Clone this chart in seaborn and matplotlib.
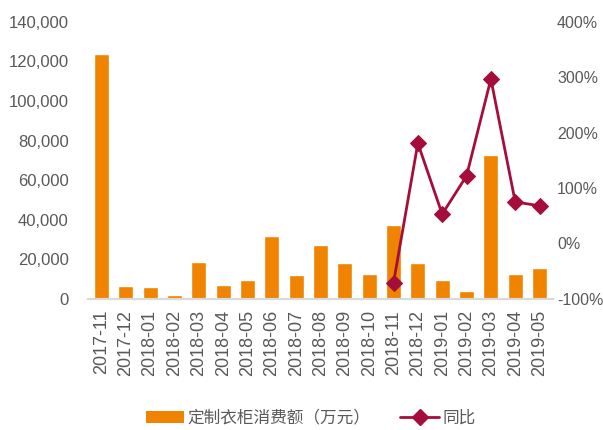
import pandas as pd
import numpy as np
import matplotlib
matplotlib.use('Agg')
import matplotlib.pyplot as plt
import matplotlib.ticker as mticker
from matplotlib.lines import Line2D
from matplotlib.patches import Patch
import seaborn as sns

# Data
months = ['2017-11', '2017-12', '2018-01', '2018-02', '2018-03', '2018-04', '2018-05',
          '2018-06', '2018-07', '2018-08', '2018-09', '2018-10', '2018-11', '2018-12',
          '2019-01', '2019-02', '2019-03', '2019-04', '2019-05']
sales = [124000, 6500, 6000, 1800, 18500, 7000, 9500, 32000, 12000, 27000,
         18000, 12500, 37500, 18000, 9500, 4000, 72500, 12500, 15500]
yoy_months = ['2018-11', '2018-12', '2019-01', '2019-02', '2019-03', '2019-04', '2019-05']
yoy = [-71, 181, 53, 122, 297, 75, 68]

bar_label = '定制衣柜消费额（万元）'
line_label = '同比'

sns.set_style('white')
plt.rcParams['font.family'] = ['Liberation Sans', 'Noto Sans CJK SC', 'DejaVu Sans']

bar_color = '#F08300'
line_color = '#A50D3A'
text_color = '#595959'

df_bar = pd.DataFrame({'month': months, 'sales': sales})
df_line = pd.DataFrame({'x': [months.index(m) for m in yoy_months], 'yoy': yoy})

fig = plt.figure(figsize=(6.03, 4.30), dpi=100)
ax = fig.add_axes([0.146, 0.305, 0.771, 0.644])

sns.barplot(data=df_bar, x='month', y='sales', color=bar_color, saturation=1,
            width=0.62, ax=ax)
ax.set_ylim(0, 140000)
ax.set_xlim(-0.55, len(months) - 0.45)
ax.yaxis.set_major_locator(mticker.MultipleLocator(20000))
ax.yaxis.set_major_formatter(mticker.FuncFormatter(lambda v, p: f'{int(v):,}'))
ax.set_xlabel('')
ax.set_ylabel('')
ax.tick_params(axis='x', labelrotation=90, labelsize=13, colors=text_color, length=0, pad=8)
ax.tick_params(axis='y', labelsize=12, colors=text_color, length=0, pad=14)

ax2 = ax.twinx()
sns.lineplot(data=df_line, x='x', y='yoy', color=line_color, linewidth=2,
             marker='D', markersize=8, markeredgecolor=line_color, ax=ax2)
ax2.set_ylim(-100, 400)
ax2.yaxis.set_major_locator(mticker.MultipleLocator(100))
ax2.yaxis.set_major_formatter(mticker.FuncFormatter(lambda v, p: f'{int(v)}%'))
ax2.set_ylabel('')
ax2.tick_params(axis='y', labelsize=11.5, colors=text_color, length=0, pad=3)

for a in (ax, ax2):
    for s in ['top', 'right', 'left']:
        a.spines[s].set_visible(False)
    a.spines['bottom'].set_color('#D9D9D9')
    a.spines['bottom'].set_linewidth(1.5)

handles = [Patch(facecolor=bar_color, edgecolor='none'),
           Line2D([0], [0], color=line_color, linewidth=2, marker='D', markersize=8)]
fig.legend(handles, [bar_label, line_label], loc='center', bbox_to_anchor=(0.515, 0.028),
           ncol=2, frameon=False, fontsize=12, handlelength=2.3, handletextpad=0.2,
           columnspacing=1.8, labelcolor=text_color)

fig.savefig('out.png', dpi=100)
